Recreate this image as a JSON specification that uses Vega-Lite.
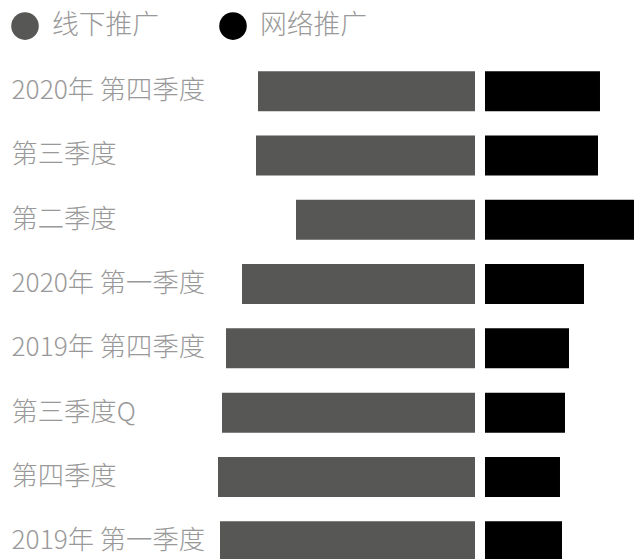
{
  "$schema": "https://vega.github.io/schema/vega-lite/v6.json",
  "width": 424,
  "height": 514.4,
  "padding": {"left": 11, "top": 12, "right": 0, "bottom": 0},
  "background": "white",
  "config": {
    "view": {"stroke": null},
    "font": "Noto Sans CJK SC"
  },
  "data": {
    "values": [
      {"q": "2020年 第四季度", "offline": 217, "online": 115},
      {"q": "第三季度", "offline": 219, "online": 113},
      {"q": "第二季度", "offline": 179, "online": 149},
      {"q": "2020年 第一季度", "offline": 233, "online": 99},
      {"q": "2019年 第四季度", "offline": 249, "online": 84},
      {"q": "第三季度Q", "offline": 253, "online": 80},
      {"q": "第四季度", "offline": 257, "online": 75},
      {"q": "2019年 第一季度", "offline": 255, "online": 77}
    ]
  },
  "encoding": {
    "y": {
      "field": "q",
      "type": "nominal",
      "sort": null,
      "scale": {"paddingInner": 0.378, "paddingOuter": 0.189},
      "axis": {
        "title": null,
        "ticks": false,
        "domain": false,
        "labelAlign": "left",
        "labelPadding": 199,
        "labelFontSize": 26.3,
        "labelFont": "Noto Sans CJK SC",
        "labelFontWeight": 300,
        "labelColor": "#999999",
        "labelLimit": 0
      }
    }
  },
  "layer": [
    {
      "mark": {"type": "bar"},
      "encoding": {
        "x": {
          "field": "offline",
          "type": "quantitative",
          "scale": {"domain": [-159, 265], "reverse": true, "nice": false, "zero": false},
          "axis": null
        },
        "x2": {"datum": 0},
        "color": {
          "datum": "线下推广",
          "scale": {"domain": ["线下推广", "网络推广"], "range": ["#575755", "#000000"]},
          "legend": {
            "title": null,
            "orient": "none",
            "direction": "horizontal",
            "legendX": -199,
            "legendY": -47,
            "symbolType": "circle",
            "symbolSize": 760,
            "symbolStrokeWidth": 0,
            "labelFontSize": 26.8,
            "labelFont": "Noto Sans CJK SC",
            "labelFontWeight": 300,
            "labelColor": "#999999",
            "labelOffset": 13,
            "columnPadding": 59,
            "padding": 0
          }
        }
      }
    },
    {
      "mark": {"type": "bar"},
      "encoding": {
        "x": {
          "field": "online",
          "type": "quantitative",
          "scale": {"domain": [-275, 149], "nice": false, "zero": false},
          "axis": null
        },
        "x2": {"datum": 0},
        "color": {"datum": "网络推广"}
      }
    }
  ],
  "resolve": {"scale": {"x": "independent"}}
}
